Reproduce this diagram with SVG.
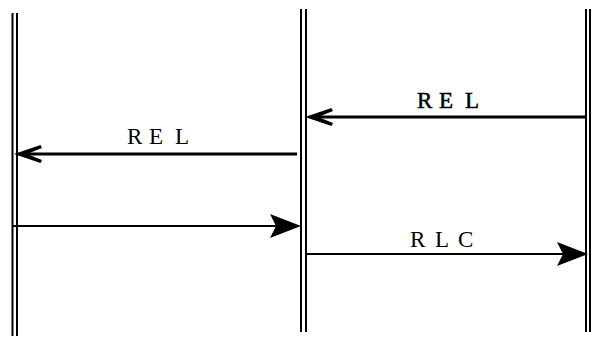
<svg xmlns="http://www.w3.org/2000/svg" width="592" height="338" viewBox="0 0 592 338">
<style>
.life{stroke:#000;stroke-width:2;fill:none}
.msg{stroke:#000;fill:none}
.thick{stroke-width:3}
.thin{stroke-width:2}
.lbl{font-family:"Liberation Serif","Times New Roman",serif;font-size:23px;fill:#000}
.bold{stroke:#000;stroke-width:0.5}
</style>
<defs>
<marker id="open" viewBox="0 0 28 18" markerWidth="28" markerHeight="18" refX="22" refY="9" orient="auto" markerUnits="userSpaceOnUse">
<path d="M28,9 L1.5,0 L0,3 L15,9 L0,15 L1.5,18 Z" fill="#000"/>
</marker>
<marker id="solid" viewBox="0 0 31 24" markerWidth="31" markerHeight="24" refX="28" refY="12" orient="auto" markerUnits="userSpaceOnUse">
<path d="M0,0 L31,12 L0,24 L6,12 Z" fill="#000"/>
</marker>
</defs>
<rect width="592" height="338" fill="#fff"/>
<g id="lifeline-left">
<line class="life" x1="12.5" y1="13" x2="12.5" y2="336"/>
<line class="life" x1="17" y1="13" x2="17" y2="336"/>
</g>
<g id="lifeline-middle">
<line class="life" x1="301" y1="9" x2="301" y2="332"/>
<line class="life" x1="306" y1="9" x2="306" y2="332"/>
</g>
<g id="lifeline-right">
<line class="life" x1="586" y1="9" x2="586" y2="332"/>
<line class="life" x1="590" y1="9" x2="590" y2="332"/>
</g>
<g id="connectors">
<line class="msg thick" x1="587" y1="117" x2="311" y2="117" marker-end="url(#open)"/>
<line class="msg thick" x1="297" y1="154" x2="20" y2="154" marker-end="url(#open)"/>
<line class="msg thin" x1="12" y1="226" x2="298" y2="226" marker-end="url(#solid)"/>
<line class="msg thin" x1="307" y1="254" x2="585" y2="254" marker-end="url(#solid)"/>
</g>
<g id="labels">
<text class="lbl bold" x="417 439 465" y="108">REL</text>
<text class="lbl" x="127 149 175" y="144">REL</text>
<text class="lbl" x="410 435 458" y="247">RLC</text>
</g>
</svg>
